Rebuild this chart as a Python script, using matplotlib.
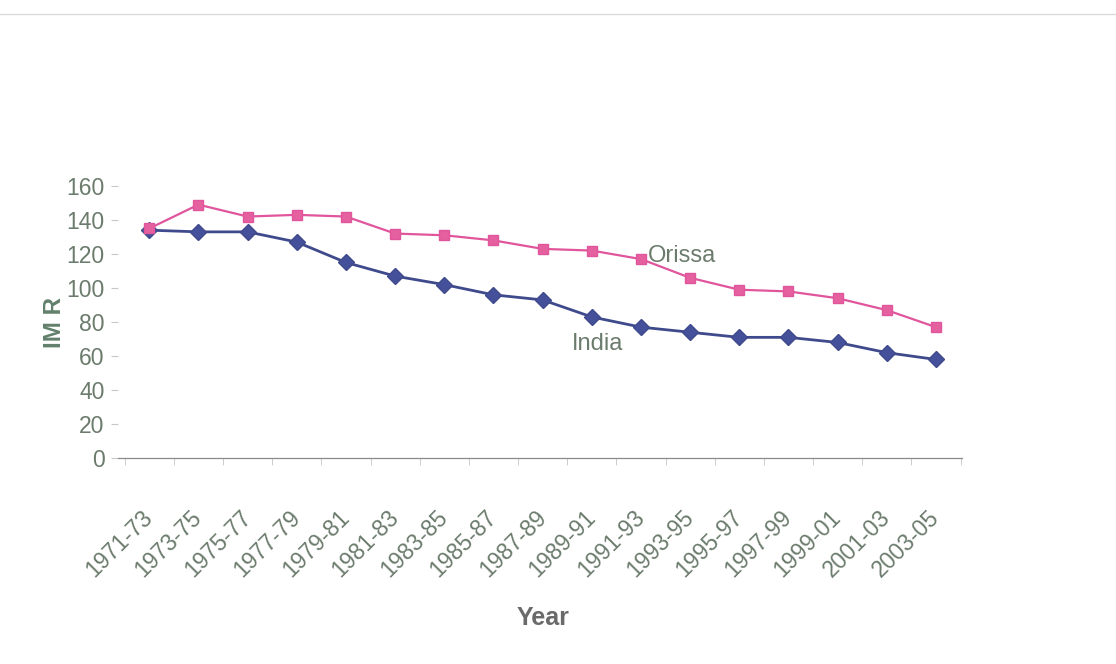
import matplotlib
matplotlib.use("Agg")
import matplotlib.pyplot as plt
from matplotlib.lines import Line2D
import numpy as np

plt.rcParams['font.family'] = ['Liberation Sans', 'DejaVu Sans']

years = ["1971-73", "1973-75", "1975-77", "1977-79", "1979-81", "1981-83",
         "1983-85", "1985-87", "1987-89", "1989-91", "1991-93", "1993-95",
         "1995-97", "1997-99", "1999-01", "2001-03", "2003-05"]
india = [134, 133, 133, 127, 115, 107, 102, 96, 93, 83, 77, 74, 71, 71, 68, 62, 58]
orissa = [135, 149, 142, 143, 142, 132, 131, 128, 123, 122, 117, 106, 99, 98, 94, 87, 77]

text_col = "#6b7b6c"
x = np.arange(len(years))

fig = plt.figure(figsize=(11.16, 6.64), dpi=100)
ax = fig.add_axes([0.106, 0.310, 0.756, 0.410])

ax.plot(x, india, color="#3f4a8c", lw=2, marker="D", ms=8.5, mfc="#45509a", mec="#3f4a8c")
ax.plot(x, orissa, color="#e0559c", lw=1.6, marker="s", ms=7.5, mfc="#e5609f", mec="#e0559c")

ax.text(10.15, 119, "Orissa", fontsize=17, color=text_col, ha="left", va="center")
ax.text(8.6, 67, "India", fontsize=17, color=text_col, ha="left", va="center")

ax.set_xlim(-0.63, 16.53)
ax.set_ylim(0, 160)
ax.set_yticks(range(0, 161, 20))
ax.set_xticks(x)
ax.set_xticklabels(years, rotation=45, ha="right", va="center", rotation_mode="anchor")
ax.set_xticks(np.arange(-0.5, 16.6, 1), minor=True)
ax.tick_params(axis="x", which="major", length=0, pad=40, labelsize=16.5, labelcolor=text_col)
ax.tick_params(axis="x", which="minor", length=5, color="#c4c4c4", direction="out")
ax.tick_params(axis="y", length=5, color="#c8c8c8", pad=5, labelsize=16.5, labelcolor=text_col)

for s in ["top", "right", "left"]:
    ax.spines[s].set_visible(False)
ax.spines["bottom"].set_color("#8a8a8a")
ax.spines["bottom"].set_linewidth(0.9)

ax.set_ylabel("IM R", fontsize=17.5, fontweight="bold", color="#62806c")
ax.yaxis.set_label_coords(-0.062, 0.5)
fig.text(0.487, 0.058, "Year", fontsize=18, fontweight="bold", color="#6a6a6a", ha="center")

# faint scan border at the top of the page
fig.add_artist(Line2D([0, 1], [0.979, 0.979], color="#d8dcd8", lw=1))

fig.savefig("out.png", dpi=100)
